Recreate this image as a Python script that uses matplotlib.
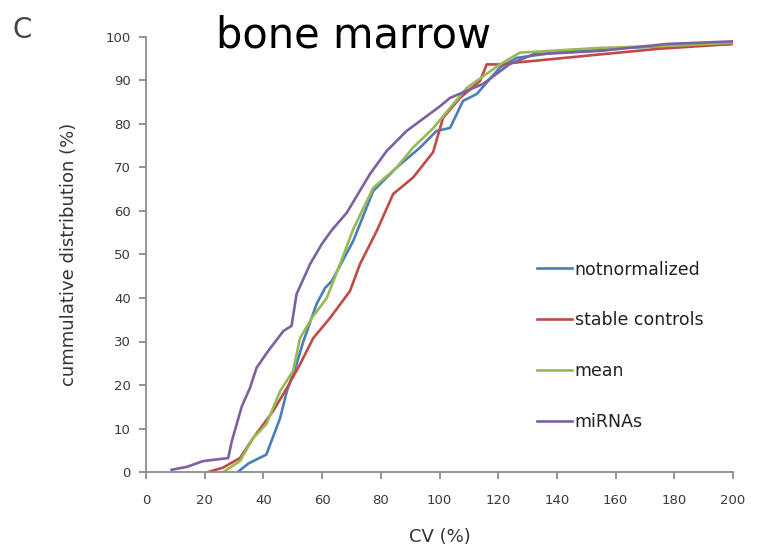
import matplotlib
matplotlib.use("Agg")
import matplotlib.pyplot as plt

plt.rcParams['font.family'] = ['DejaVu Sans']

# CV (%) vs cumulative distribution (%)
not_norm_x = [31.3, 35, 41, 45.7, 48, 51.3, 53.6, 58.1, 61, 63.3, 70.6, 77.4, 85.4, 93.4, 99, 103.6,
              108, 112.7, 120.6, 126.3, 143.3, 160, 177.5, 200]
not_norm_y = [0, 2, 4, 12.4, 18.6, 24.8, 30, 38.6, 42.3, 43.9, 53.1, 64.6, 70, 74.6, 78.4, 79.1,
              85.3, 86.9, 93, 95.2, 96.8, 97.4, 97.9, 98.4]

stable_x = [21.2, 26.2, 32, 36.5, 43.3, 48, 52.5, 57, 62.7, 69.5, 72.9, 78.6, 84.2, 91, 97.8,
            101.2, 107, 113.8, 116.1, 120.6, 124, 132, 154.7, 175, 200]
stable_y = [0, 1, 3.2, 7.8, 14, 19.3, 24.8, 30.8, 35.4, 41.6, 47.8, 55.4, 63.9, 67.7, 73.5,
            81.4, 86, 89.9, 93.7, 93.7, 94, 94.5, 96, 97.3, 98.4]

mean_x = [26.3, 32, 36.5, 41, 45.7, 50.1, 52.5, 56.5, 61.6, 66.1, 70.6, 77.4, 85.4, 91, 97.8,
          103.6, 109.3, 120.6, 127.4, 154.7, 180, 200]
mean_y = [0, 2.5, 7.8, 11, 18.6, 23.2, 30.8, 35.4, 40, 47.8, 55.8, 65.3, 70, 74.6, 79,
          83.7, 88.3, 93.7, 96.4, 97.5, 98, 98.7]

mirna_x = [8.7, 14, 19.4, 28, 29.2, 32.6, 35.4, 37.7, 41.6, 46.8, 49.6, 51.3, 55.9, 59.9, 63.3,
           68.4, 76.3, 82, 88.8, 93.4, 100.2, 103.6, 114.8, 124, 132, 154.7, 177.5, 200]
mirna_y = [0.5, 1.2, 2.5, 3.2, 7, 15, 19.3, 24, 27.8, 32.4, 33.6, 40.9, 47.8, 52.4, 55.6,
           59.6, 68.5, 73.8, 78.4, 80.7, 84.1, 86, 89.2, 93.8, 96, 96.8, 98.4, 99]

labels = ["notnormalized", "stable controls", "mean", "miRNAs"]
colors = ["#4a7ebb", "#be4b48", "#98b954", "#7d60a0"]

fig = plt.figure(figsize=(7.6, 5.48), dpi=100)
ax = fig.add_axes([146 / 760, 1 - 472 / 548, (733 - 146) / 760, (472 - 37) / 548])

series = [(not_norm_x, not_norm_y), (stable_x, stable_y), (mean_x, mean_y), (mirna_x, mirna_y)]
for (xs, ys), lab, col in zip(series, labels, colors):
    ax.plot(xs, ys, color=col, linewidth=1.9, label=lab)

ax.set_xlim(0, 200)
ax.set_ylim(0, 100)
ax.set_xticks(range(0, 201, 20))
ax.set_yticks(range(0, 101, 10))
for s in ["top", "right"]:
    ax.spines[s].set_visible(False)
for s in ["left", "bottom"]:
    ax.spines[s].set_color("#8c8c8c")
    ax.spines[s].set_linewidth(1.3)
ax.tick_params(axis="both", color="#8c8c8c", length=5, width=1.3, labelsize=9.5, labelcolor="#3a3a3a")
ax.tick_params(axis="y", pad=6)
ax.tick_params(axis="x", pad=11)

ax.set_xlabel("CV (%)", fontsize=13, color="#333333", labelpad=15)
ax.set_ylabel("cummulative distribution (%)", fontsize=13, color="#333333", labelpad=20)

leg = ax.legend(loc="upper left", bbox_to_anchor=(0.654, 0.502), frameon=False, fontsize=12.5,
                handlelength=2.0, handletextpad=0.17, labelspacing=1.89, borderaxespad=0)
for t in leg.get_texts():
    t.set_color("#222222")

fig.text(13 / 760, 1 - 38 / 548, "C", fontsize=20, color="#444444", ha="left", va="baseline")
fig.text(353 / 760, 1 - 47 / 548, "bone marrow", fontsize=30, color="black", ha="center", va="baseline")

fig.savefig("out.png", dpi=100)
